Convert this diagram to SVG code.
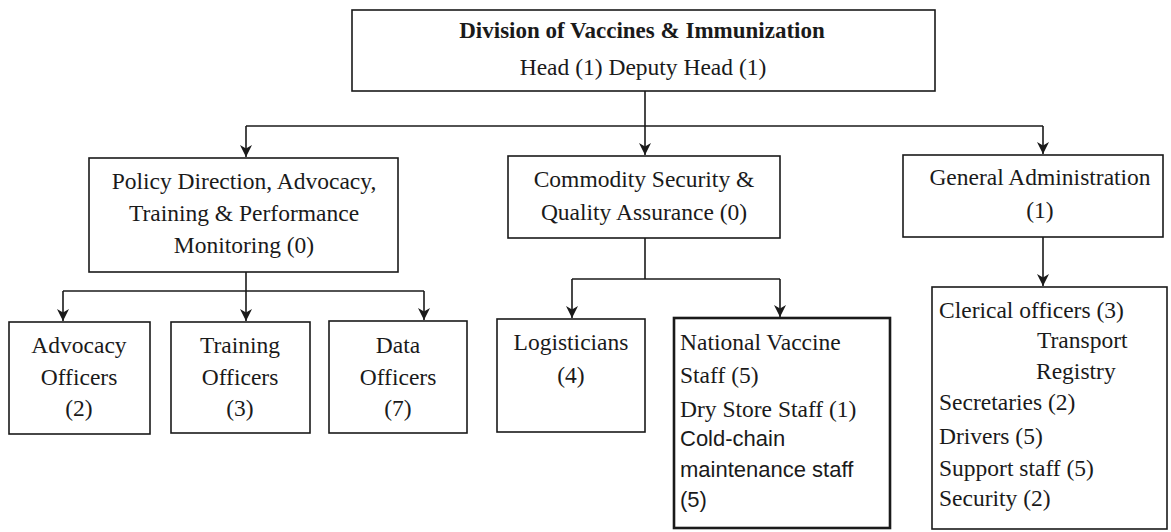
<svg xmlns="http://www.w3.org/2000/svg" width="1171" height="532" viewBox="0 0 1171 532">
<style>
.box{fill:#fff;stroke:#1a1a1a;stroke-width:1.6}
.thick{stroke-width:2.6}
.t{font-family:"Liberation Serif","Times New Roman",serif;font-size:23.5px;fill:#1a1a1a}
.c{text-anchor:middle}
.b{font-weight:bold;font-size:23px}
.s{font-family:"Liberation Sans",Arial,sans-serif;font-size:22px;fill:#1a1a1a}
.ln{fill:none;stroke:#1a1a1a;stroke-width:1.6}
</style>
<defs>
<marker id="ah" viewBox="0 0 10 10" refX="10" refY="5" markerWidth="12" markerHeight="12" markerUnits="userSpaceOnUse" orient="auto">
<path d="M0,0 L10,5 L0,10 L3,5 z" fill="#1a1a1a"/>
</marker>
</defs>
<rect width="1171" height="532" fill="#fff"/>
<g id="connectors">
<path class="ln" d="M645,91 V126"/>
<path class="ln" d="M246,126 H1043"/>
<path class="ln" d="M246,126 V157" marker-end="url(#ah)"/>
<path class="ln" d="M645,126 V155" marker-end="url(#ah)"/>
<path class="ln" d="M1043,126 V154" marker-end="url(#ah)"/>
<path class="ln" d="M246,272 V291"/>
<path class="ln" d="M63,291 H424"/>
<path class="ln" d="M63,291 V321" marker-end="url(#ah)"/>
<path class="ln" d="M246,291 V321" marker-end="url(#ah)"/>
<path class="ln" d="M424,291 V320" marker-end="url(#ah)"/>
<path class="ln" d="M645,238 V279"/>
<path class="ln" d="M572,279 H780"/>
<path class="ln" d="M572,279 V318" marker-end="url(#ah)"/>
<path class="ln" d="M780,279 V317" marker-end="url(#ah)"/>
<path class="ln" d="M1043,237 V286" marker-end="url(#ah)"/>
</g>
<g id="division">
<rect class="box" x="352" y="10" width="583" height="81"/>
<text class="t c b" x="642" y="38">Division of Vaccines &amp; Immunization</text>
<text class="t c" x="643" y="75">Head (1) Deputy Head (1)</text>
</g>
<g id="policy">
<rect class="box" x="89" y="158" width="309" height="114"/>
<text class="t c" x="244" y="189">Policy Direction, Advocacy,</text>
<text class="t c" x="244" y="221">Training &amp; Performance</text>
<text class="t c" x="244" y="253">Monitoring (0)</text>
</g>
<g id="commodity">
<rect class="box" x="508" y="156" width="272" height="82"/>
<text class="t c" x="644" y="187">Commodity Security &amp;</text>
<text class="t c" x="644" y="220">Quality Assurance (0)</text>
</g>
<g id="general-admin">
<rect class="box" x="903" y="155" width="260" height="82"/>
<text class="t c" x="1040" y="185">General Administration</text>
<text class="t c" x="1040" y="218">(1)</text>
</g>
<g id="advocacy">
<rect class="box" x="9" y="322" width="141" height="112"/>
<text class="t c" x="79" y="353">Advocacy</text>
<text class="t c" x="79" y="385">Officers</text>
<text class="t c" x="79" y="416">(2)</text>
</g>
<g id="training">
<rect class="box" x="171" y="322" width="139" height="111"/>
<text class="t c" x="240" y="353">Training</text>
<text class="t c" x="240" y="385">Officers</text>
<text class="t c" x="240" y="416">(3)</text>
</g>
<g id="data">
<rect class="box" x="329" y="321" width="138" height="112"/>
<text class="t c" x="398" y="353">Data</text>
<text class="t c" x="398" y="385">Officers</text>
<text class="t c" x="398" y="416">(7)</text>
</g>
<g id="logisticians">
<rect class="box" x="497" y="319" width="148" height="113"/>
<text class="t c" x="571" y="350">Logisticians</text>
<text class="t c" x="571" y="383">(4)</text>
</g>
<g id="national-vaccine">
<rect class="box thick" x="674" y="318" width="216" height="210"/>
<text class="t" x="680" y="350">National Vaccine</text>
<text class="t" x="680" y="383">Staff (5)</text>
<text class="t" x="680" y="417">Dry Store Staff (1)</text>
<text class="s" x="680" y="446">Cold-chain</text>
<text class="s" x="680" y="477">maintenance staff</text>
<text class="s" x="680" y="507">(5)</text>
</g>
<g id="clerical">
<rect class="box" x="932" y="287" width="235" height="242"/>
<text class="t" x="939" y="318">Clerical officers (3)</text>
<text class="t" x="1037" y="348">Transport</text>
<text class="t" x="1036" y="379">Registry</text>
<text class="t" x="939" y="410">Secretaries (2)</text>
<text class="t" x="939" y="444">Drivers (5)</text>
<text class="t" x="939" y="476">Support staff (5)</text>
<text class="t" x="939" y="506">Security (2)</text>
</g>
</svg>
